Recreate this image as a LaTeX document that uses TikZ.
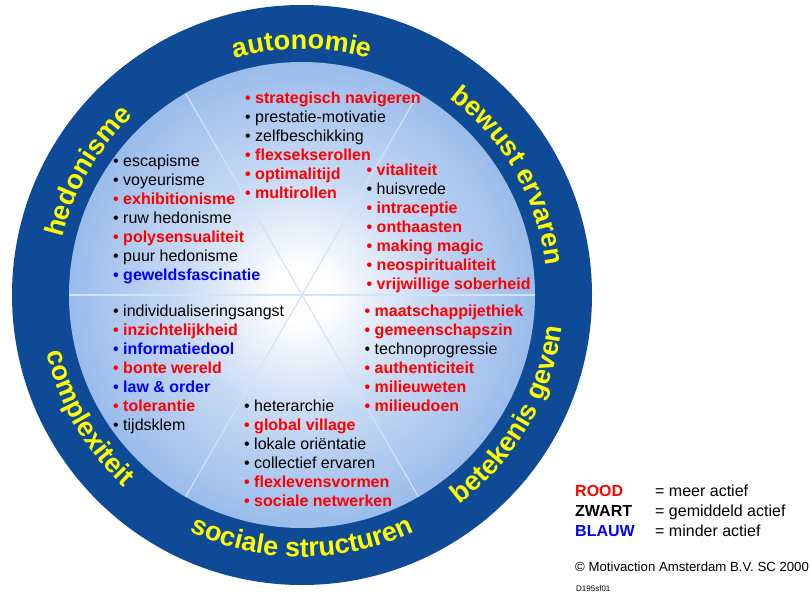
\documentclass[tikz,border=0pt]{standalone}
\usepackage{fontspec}
\setmainfont{Liberation Sans}
\usepackage{tikz}
\usetikzlibrary{decorations.text}

\definecolor{ringblue}{HTML}{0F4A96}
\definecolor{discblue}{HTML}{9ABCEB}
\definecolor{spokeblue}{HTML}{D2E2F7}
\definecolor{rood}{HTML}{FF0000}
\definecolor{zwart}{HTML}{000000}
\definecolor{blauw}{HTML}{0000FF}
\definecolor{geel}{HTML}{FFFF00}

\newcommand{\ringfont}{\fontsize{27}{27}\selectfont\bfseries\color{geel}}
\newcommand{\itemfont}{\fontsize{16}{19}\selectfont}

\pgfdeclareradialshading{discshade}{\pgfpoint{0bp}{0bp}}{color(0bp)=(white); color(3bp)=(white); color(13bp)=(discblue!55!white); color(25bp)=(discblue); color(50bp)=(discblue)}

\tikzset{
	item/.style={anchor=base west, inner sep=0pt, font=\itemfont},
	meer/.style={text=rood, font=\itemfont\bfseries},
	gemiddeld/.style={text=zwart},
	minder/.style={text=blauw, font=\itemfont\bfseries},
	spoke/.style={draw=spokeblue, line width=1.2pt},
	ringtext/.style={decorate, decoration={text along path, text align=center}}
}

\begin{document}
\begin{tikzpicture}[x=1pt, y=1pt]
		\useasboundingbox (-302,-300) rectangle (509,295);

		\fill[ringblue] (0,0) circle (290);
		\shade[shading=discshade] (0,0) circle (233);
		\foreach \a in {0,60,120}{
				\draw[spoke] (\a:233) -- (\a+180:233);
		}

		% labels in the ring
		\foreach \a/\t in {90/autonomie, 30/bewust ervaren, 150/hedonisme}{
				\path[ringtext, decoration={text/.expanded={|\noexpand\ringfont|\t}}]
						(\a+40:246) arc[start angle=\a+40, end angle=\a-40, radius=246];
		}
		\foreach \a/\t in {-90/sociale structuren, -30/betekenis geven, 210/complexiteit}{
				\path[ringtext, decoration={text/.expanded={|\noexpand\ringfont|\t}}]
						(\a-40:262) arc[start angle=\a-40, end angle=\a+40, radius=262];
		}

		\begin{scope}
				\foreach \t/\c [count=\k] in{
						strategisch navigeren/meer,
						prestatie-motivatie/gemiddeld,
						zelfbeschikking/gemiddeld,
						flexsekserollen/meer,
						optimalitijd/meer,
						multirollen/meer%
				}{
				\pgfmathsetmacro{\yy}{192-19*(\k-1)}
				\node[item, \c] (auto\k) at (-57,\yy) {• \t};
				}

				\foreach \t/\c [count=\k] in{
						escapisme/gemiddeld,
						voyeurisme/gemiddeld,
						exhibitionisme/meer,
						ruw hedonisme/gemiddeld,
						polysensualiteit/meer,
						puur hedonisme/gemiddeld,
						geweldsfascinatie/minder%
				}{
				\pgfmathsetmacro{\yy}{128.5-19*(\k-1)}
				\node[item, \c] (hedo\k) at (-189,\yy) {• \t};
				}

				\foreach \t/\c [count=\k] in{
						vitaliteit/meer,
						huisvrede/gemiddeld,
						intraceptie/meer,
						onthaasten/meer,
						making magic/meer,
						neospiritualiteit/meer,
						vrijwillige soberheid/meer%
				}{
				\pgfmathsetmacro{\yy}{119.5-19*(\k-1)}
				\node[item, \c] (bewust\k) at (64.5,\yy) {• \t};
				}

				\foreach \t/\c [count=\k] in{
						individualiseringsangst/gemiddeld,
						inzichtelijkheid/meer,
						informatiedool/minder,
						bonte wereld/meer,
						law \& order/minder,
						tolerantie/meer,
						tijdsklem/gemiddeld%
				}{
				\pgfmathsetmacro{\yy}{-21-19*(\k-1)}
				\node[item, \c] (compl\k) at (-189,\yy) {• \t};
				}

				\foreach \t/\c [count=\k] in{
						maatschappijethiek/meer,
						gemeenschapszin/meer,
						technoprogressie/gemiddeld,
						authenticiteit/meer,
						milieuweten/meer,
						milieudoen/meer%
				}{
				\pgfmathsetmacro{\yy}{-21.5-19*(\k-1)}
				\node[item, \c] (betek\k) at (62.5,\yy) {• \t};
				}

				\foreach \t/\c [count=\k] in{
						heterarchie/gemiddeld,
						global village/meer,
						lokale oriëntatie/gemiddeld,
						collectief ervaren/gemiddeld,
						flexlevensvormen/meer,
						sociale netwerken/meer%
				}{
				\pgfmathsetmacro{\yy}{-116-19*(\k-1)}
				\node[item, \c] (soc\k) at (-58,\yy) {• \t};
				}
		\end{scope}

		% legend
		\foreach \w/\c/\u [count=\k] in{
				ROOD/rood/meer actief,
				ZWART/zwart/gemiddeld actief,
				BLAUW/blauw/minder actief%
		}{
		\pgfmathsetmacro{\yy}{-201-20*(\k-1)}
		\node[item, text=\c, font=\itemfont\bfseries] (kleur\k) at (273,\yy) {\w};
		\node[item] (uitleg\k) at (353,\yy) {= \u};
		}
		\node[item, font=\fontsize{13.2}{16}\selectfont] (copy) at (273,-276.5) {© Motivaction Amsterdam B.V. SC 2000};
		\node[item, font=\fontsize{8}{10}\selectfont] (code) at (274,-296) {D195sf01};
\end{tikzpicture}
\end{document}
